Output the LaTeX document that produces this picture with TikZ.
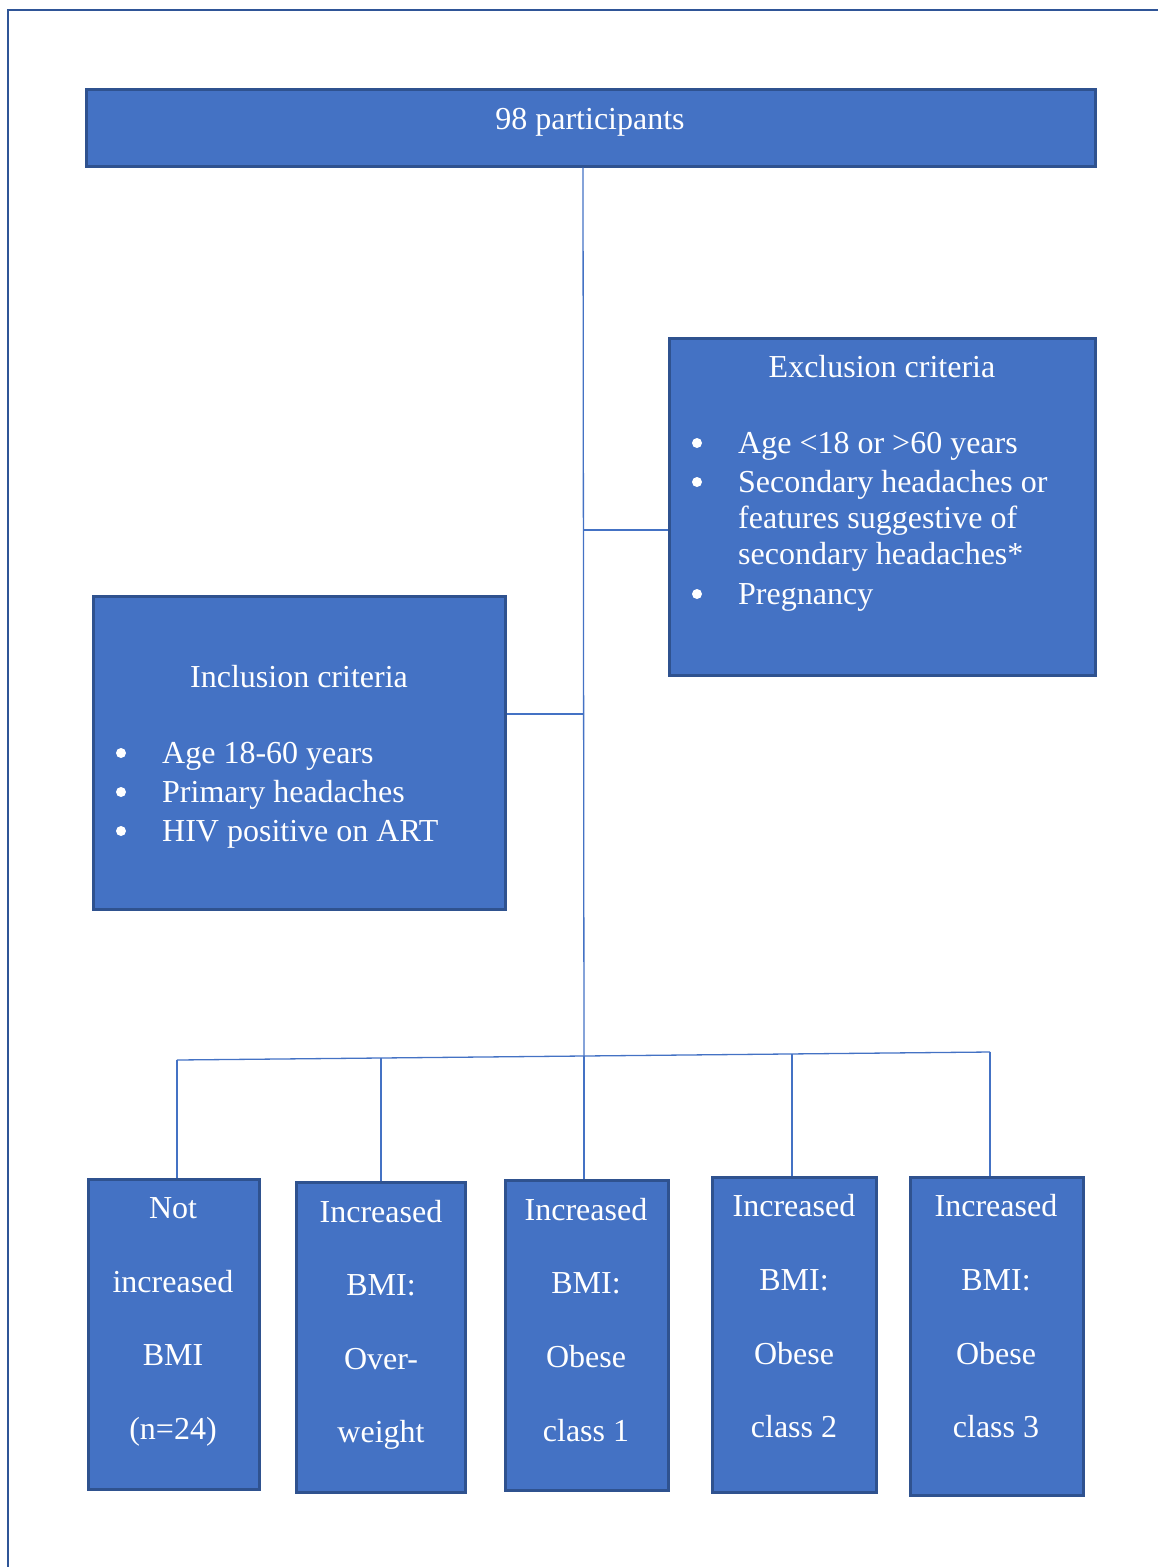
\documentclass[tikz,border=0pt]{standalone}
\usepackage{fontspec}
\setmainfont{Liberation Serif}
\definecolor{boxfill}{HTML}{4472C4}
\definecolor{boxline}{HTML}{2F528F}
\definecolor{pageline}{HTML}{2F5597}
\tikzset{
  box/.style={draw=boxline, fill=boxfill, line width=2.5pt, rectangle, inner sep=0pt, anchor=north west},
  conn/.style={draw=boxfill, line width=1.3pt},
  txt/.style={text=white, font=\fontsize{32}{36}\selectfont, anchor=base, inner sep=0pt},
  ltxt/.style={txt, anchor=base west},
  bul/.style={circle, fill=white, draw=none, inner sep=0pt, minimum size=10pt},
}
\begin{document}
\begin{tikzpicture}[x=1pt,y=-1pt]
\useasboundingbox (0,0) rectangle (1158,1567);
% page frame
\draw[pageline, line width=2.5pt] (8,1580) -- (8,10) -- (1170,10);
% boxes
\node[box, minimum width=1009pt, minimum height=77pt] (top) at (85,88) {};
\node[box, minimum width=426pt, minimum height=337pt] (excl) at (668,337) {};
\node[box, minimum width=412pt, minimum height=313pt] (incl) at (92,595) {};
\node[box, minimum width=171pt, minimum height=310pt] (b1) at (87,1178) {};
\node[box, minimum width=169pt, minimum height=310pt] (b2) at (295,1181) {};
\node[box, minimum width=163pt, minimum height=310pt] (b3) at (504,1179) {};
\node[box, minimum width=164pt, minimum height=315pt] (b4) at (711,1176) {};
\node[box, minimum width=173pt, minimum height=318pt] (b5) at (909,1176) {};
% connectors
\coordinate (j1) at (583,530);
\coordinate (j2) at (583,714);
\coordinate (hb) at (584,1056);
\coordinate (h1) at (177,1060);
\coordinate (h2) at (381,1058);
\coordinate (h4) at (792,1054);
\coordinate (h5) at (990,1052);
\draw[conn] (top.south -| j1) -- (hb);
\draw[conn] (j1) -- (excl.west |- j1);
\draw[conn] (j2) -- (incl.east |- j2);
\draw[conn] (h1) -- (h5);
\draw[conn] (h1) -- (b1.north -| h1);
\draw[conn] (h2) -- (b2.north -| h2);
\draw[conn] (hb) -- (b3.north -| hb);
\draw[conn] (h4) -- (b4.north -| h4);
\draw[conn] (h5) -- (b5.north -| h5);
% top text
\node[txt] (t0) at (590,129) {98 participants};
% exclusion
\node[txt] (et) at (882,377) {Exclusion criteria};
\node[bul] (eb1) at (697,443) {};
\node[bul] (eb2) at (697,482) {};
\node[bul] (eb3) at (697,594) {};
\node[ltxt] (e1) at (738,453) {Age <18 or >60 years};
\node[ltxt] (e2) at (738,492) {Secondary headaches or};
\node[ltxt] (e3) at (738,528) {features suggestive of};
\node[ltxt] (e4) at (738,564) {secondary headaches*};
\node[ltxt] (e5) at (738,604) {Pregnancy};
% inclusion
\node[txt] (it) at (299,687) {Inclusion criteria};
\node[bul] (ib1) at (121,753) {};
\node[bul] (ib2) at (121,792) {};
\node[bul] (ib3) at (121,831) {};
\node[ltxt] (i1) at (162,763) {Age 18-60 years};
\node[ltxt] (i2) at (162,802) {Primary headaches};
\node[ltxt] (i3) at (162,841) {HIV positive on ART};
% bottom boxes text
\node[txt] (a1) at (173,1218) {Not};
\node[txt] (a2) at (173,1292) {increased};
\node[txt] (a3) at (173,1365) {BMI};
\node[txt] (a4) at (173,1439) {(n=24)};
\node[txt] (c1) at (381,1222) {Increased};
\node[txt] (c2) at (381,1295) {BMI:};
\node[txt] (c3) at (381,1369) {Over-};
\node[txt] (c4) at (381,1442) {weight};
\node[txt] (d1) at (586,1220) {Increased};
\node[txt] (d2) at (586,1293) {BMI:};
\node[txt] (d3) at (586,1367) {Obese};
\node[txt] (d4) at (586,1441) {class 1};
\node[txt] (f1) at (794,1216) {Increased};
\node[txt] (f2) at (794,1290) {BMI:};
\node[txt] (f3) at (794,1364) {Obese};
\node[txt] (f4) at (794,1437) {class 2};
\node[txt] (g1) at (996,1216) {Increased};
\node[txt] (g2) at (996,1290) {BMI:};
\node[txt] (g3) at (996,1364) {Obese};
\node[txt] (g4) at (996,1437) {class 3};
\end{tikzpicture}
\end{document}
